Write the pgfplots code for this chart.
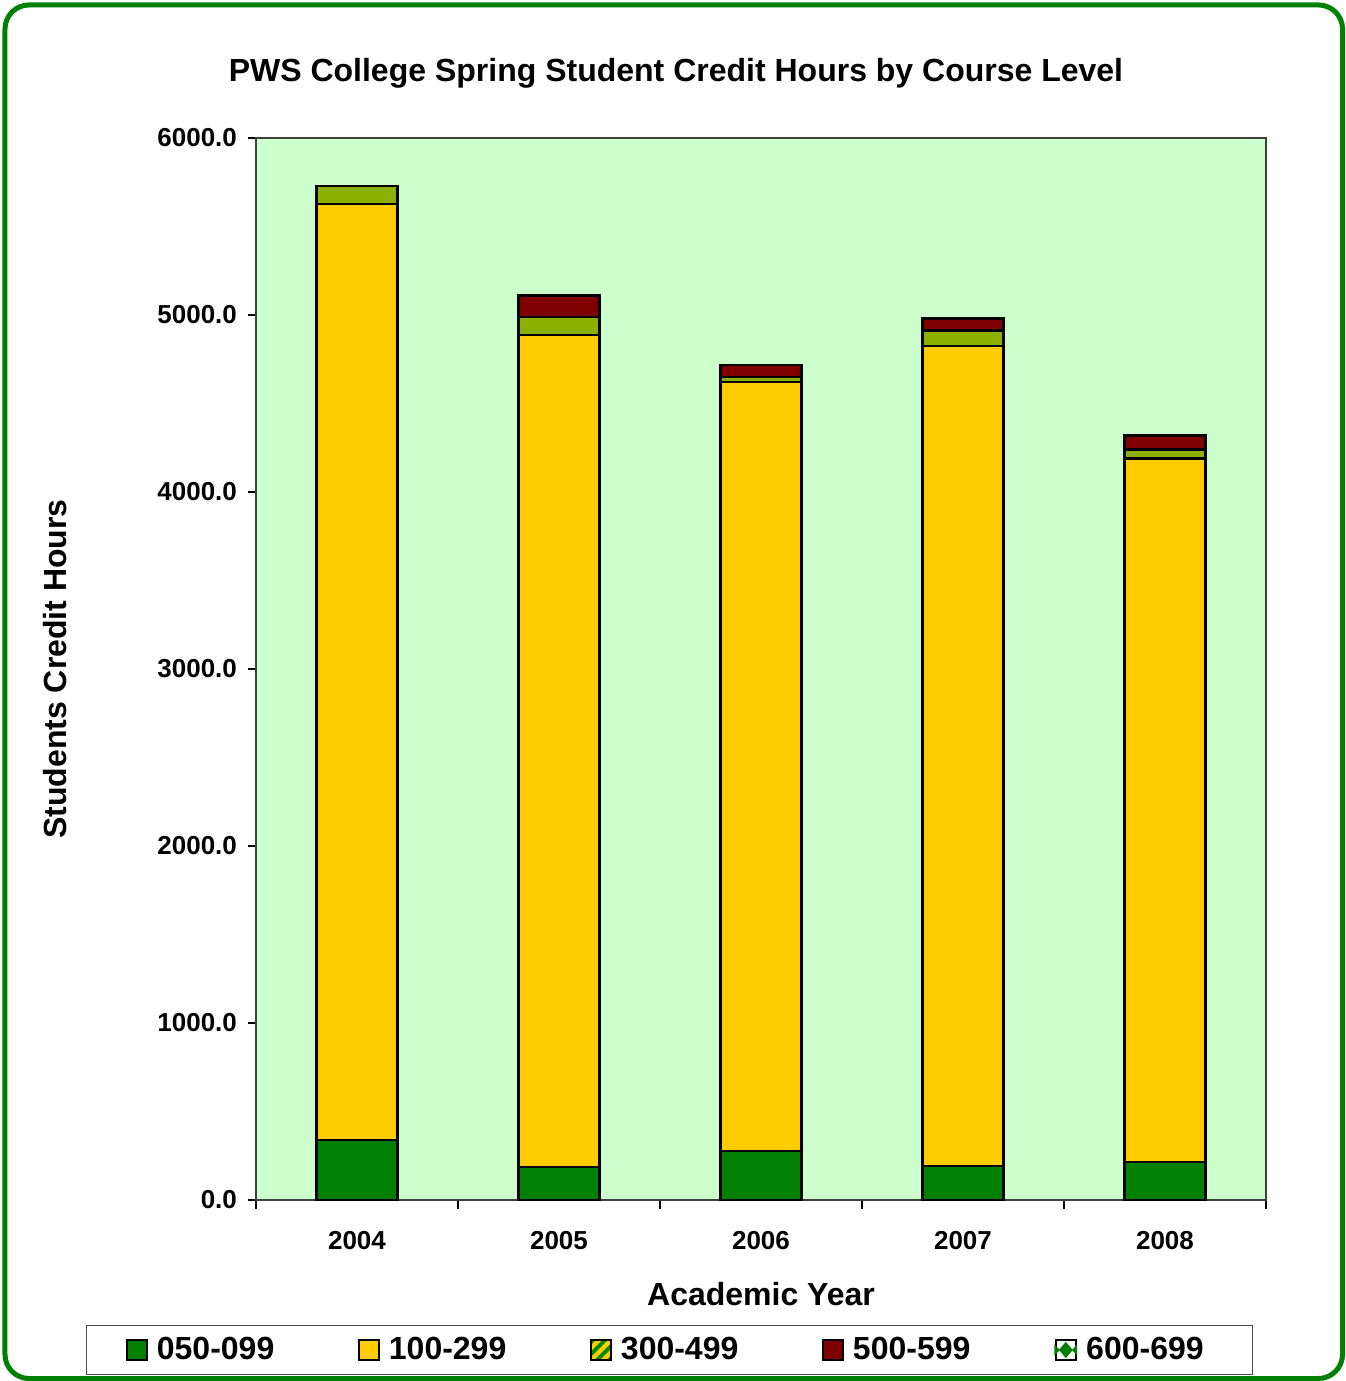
\documentclass[border=0pt]{standalone}
\usepackage{pgfplots}
\pgfplotsset{compat=1.18}
\usepackage{fontspec}
\setmainfont{Liberation Sans}

\definecolor{lvgreen}{RGB}{0,128,0}
\definecolor{lvyellow}{RGB}{255,204,0}
\definecolor{lvred}{RGB}{128,0,0}
\definecolor{plotbg}{RGB}{204,255,204}
\definecolor{framegreen}{RGB}{0,128,0}
\definecolor{stripe}{RGB}{0,140,0}

% diagonal green stripes inside whatever path they are given to
\tikzset{stripes/.style={path picture={%
  \path[path picture={}] (path picture bounding box.south west) coordinate (pp);
  \foreach \i in {-12,...,12}
    \draw[path picture={}, fill=none, stripe, line width=2pt] ([shift={(\i*6pt,-3pt)}]pp) -- ++(60pt,60pt);}}}

\pgfplotstableread{
x  a    b     c    d    e
0  339  5288  102  0    0
1  186  4701  102  119  0
2  277  4345  28   68   0
3  192  4633  87   70   0
4  215  3976  47   81   0
}\shch

\newcommand{\lbl}{\fontsize{13}{15}\selectfont\bfseries}
\newcommand{\bigb}{\fontsize{16}{19}\selectfont\bfseries}

\begin{document}
\begin{tikzpicture}
\begin{axis}[name=ax,
  scale only axis, width=505pt, height=531pt,
  ybar stacked, bar width=0.4,
  xmin=-0.5, xmax=4.5, ymin=0, ymax=6000,
  axis background/.style={fill=plotbg},
  axis line style={draw=black!75, line width=0.8pt},
  xtick={0,...,4}, xticklabels={2004,2005,2006,2007,2008},
  major x tick style={draw=none},
  minor xtick={-0.5,0.5,1.5,2.5,3.5,4.5},
  minor tick length=4.5pt,
  tick align=outside, tick pos=left,
  ytick={0,1000,...,6000},
  major tick length=4pt,
  tick style={black, line width=0.6pt},
  ticklabel style={font=\lbl},
  xticklabel style={yshift=-8pt},
  yticklabel style={xshift=-2pt},
  /pgf/number format/.cd, fixed, fixed zerofill, precision=1, 1000 sep={}, assume math mode=true,
  /pgfplots/.cd,
  title={PWS College Spring Student Credit Hours by Course Level},
  title style={font=\bigb, at={(rel axis cs:0.4158,1.05)}, anchor=center, yshift=0pt},
  xlabel={Academic Year},
  xlabel style={font=\bigb, at={(rel axis cs:0.5,-0.0885)}, anchor=center},
  ylabel={Students Credit Hours},
  ylabel style={font=\bigb, at={(rel axis cs:-0.199,0.5)}, anchor=center},
  legend columns=5,
  legend style={at={(rel axis cs:0.4094,-0.1412)}, anchor=center,
    draw=black!70, line width=0.6pt, font=\bigb,
    inner ysep=4pt, inner xsep=20pt,
    nodes={inner xsep=4.5pt},
    /tikz/every even column/.append style={column sep=37.5pt}},
  legend cell align=left,
  legend image code/.code={\draw[#1, line width=0.8pt] (0pt,-5pt) rectangle (10pt,5pt);},
  every axis plot/.append style={draw=black, line width=1.4pt},
]
\addplot[fill=lvgreen] table[x=x,y=a]{\shch};
\addlegendentry{050-099}
\addplot[fill=lvyellow] table[x=x,y=b]{\shch};
\addlegendentry{100-299}
\addplot[fill=lvyellow!55!stripe, legend image code/.code={%
  \draw[black, fill=lvyellow, stripes, line width=0.8pt] (0pt,-5pt) rectangle (10pt,5pt);}] table[x=x,y=c]{\shch};
\addlegendentry{300-499}
\addplot[fill=lvred] table[x=x,y=d]{\shch};
\addlegendentry{500-599}
\addplot[fill=white, legend image code/.code={%
  \draw[black, fill=white, line width=0.8pt] (0pt,-5pt) rectangle (10pt,5pt);
  \fill[lvgreen] (5pt,-3pt) -- (7.5pt,0pt) -- (5pt,3pt) -- (2.5pt,0pt) -- cycle;
  \fill[lvgreen] (0pt,-1pt) -- (1pt,0pt) -- (0pt,1pt) -- cycle;
  \fill[lvgreen] (10pt,-1pt) -- (9pt,0pt) -- (10pt,1pt) -- cycle;}] table[x=x,y=e]{\shch};
\addlegendentry{600-699}
\end{axis}
\pgfresetboundingbox
\useasboundingbox ([xshift=-128pt,yshift=-90.5pt]ax.south west) rectangle ([xshift=544.5pt,yshift=600pt]ax.south west);
\draw[framegreen, line width=2.5pt, rounded corners=12pt] ([xshift=-125.5pt,yshift=-89.25pt]ax.south west) rectangle ([xshift=543.25pt,yshift=597.5pt]ax.south west);
\end{tikzpicture}
\end{document}
